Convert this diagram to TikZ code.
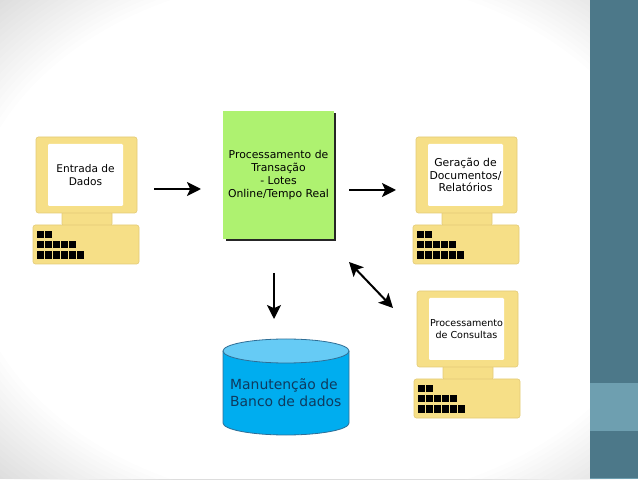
\documentclass[tikz,border=0pt]{standalone}
\usepackage{xcolor}
\usepackage{fontspec}
\setmainfont{DejaVu Sans}
\usetikzlibrary{arrows.meta}
\definecolor{barra}{HTML}{4C7889}
\definecolor{barraclara}{HTML}{6E9FB0}
\definecolor{micro}{HTML}{F6DF87}
\definecolor{microborda}{HTML}{E3CB78}
\definecolor{caixa}{HTML}{AEF270}
\definecolor{cilindro}{HTML}{00ADEF}
\definecolor{tampa}{HTML}{66CBF5}
\definecolor{cilborda}{HTML}{2F6E96}
\definecolor{cilnome}{HTML}{0F3A5E}
\tikzset{
  pecamicro/.style={fill=micro,draw=microborda,line width=0.3mm,rounded corners=1.2mm},
  tela/.style={fill=white,rounded corners=0.6mm,outer sep=0pt,minimum width=37.5mm,minimum height=31mm,inner sep=0pt,align=center},
  seta/.style={-{Stealth[length=7mm,width=7mm,inset=1.6mm]},line width=1mm},
  setafina/.style={-{Stealth[length=7mm,width=7mm,inset=1.6mm]},line width=0.75mm},
  setadupla/.style={{Stealth[length=7mm,width=7mm,inset=1.6mm]}-{Stealth[length=7mm,width=7mm,inset=1.6mm]},line width=1mm}
}
\begin{document}
\begin{tikzpicture}[x=0.5mm,y=0.5mm]
\useasboundingbox (0,0) rectangle (638,479);
% cantos escurecidos do fundo
\foreach \r in {352,358,...,448} {
  \fill[black,opacity=0.009,even odd rule] (0,0) rectangle (638,479) (319,239.5) ellipse[x radius=\r,y radius=0.75*\r];
}
\fill[barra] (590,0) rectangle (638,479);
\fill[barraclara] (590,48) rectangle (638,96);
\fill[barraclara] (590,0) rectangle (638,1.2);
% os tres micros
\foreach \dx/\dy/\nome/\corpo/\texto in {0/0/entrada/15.1/{Entrada de\\Dados},
    380/0/geracao/15.4/{Geração de\\Documentos/\\Relatórios},
    381/-154/consulta/13.6/{Processamento\\de Consultas}} {
  \begin{scope}[shift={(\dx,\dy)}]
  \draw[pecamicro] (62,253) rectangle (112,268);
  \draw[pecamicro] (36,266) rectangle (137,342);
  \draw[pecamicro] (33,215) rectangle (139,254);
  \node[tela,font=\fontsize{\corpo pt}{17.8pt}\selectfont] (\nome) at (85.5,304) {\texto};
  \foreach \i in {0,1} \fill[black] (37+8*\i,240.6) rectangle +(7,7.8);
  \foreach \i in {0,...,4} \fill[black] (37+8*\i,230.6) rectangle +(7,7.8);
  \foreach \i in {0,...,5} \fill[black] (37+8*\i,219.8) rectangle +(7,7.8);
  \end{scope}
}
% transacao
\fill[black!85] (226,238) rectangle (336,366);
\node[fill=caixa,outer sep=0pt,inner sep=0pt,minimum width=55.5mm,minimum height=64mm,align=center,font=\fontsize{15.4pt}{18.5pt}\selectfont] (transacao) at (278.5,304) {Processamento de\\Transação\\- Lotes\\Online/Tempo Real};
% banco de dados
\fill[cilindro] (223,128) -- (223,56) arc[start angle=180,end angle=360,x radius=63,y radius=12] -- (349,128) -- cycle;
\draw[cilborda,line width=0.4mm] (223,128) -- (223,56) arc[start angle=180,end angle=360,x radius=63,y radius=12] -- (349,128);
\fill[tampa] (286,128) ellipse[x radius=63,y radius=12];
\draw[cilborda,line width=0.4mm] (286,128) ellipse[x radius=63,y radius=12];
\node[minimum width=63mm,minimum height=48mm,inner sep=0pt,outer sep=0pt] (banco) at (286,92) {};
\node[text=cilnome,align=left,anchor=west,inner sep=0pt,font=\fontsize{19.8pt}{24.4pt}\selectfont] (bancotexto) at (230,86) {Manutenção de\\Banco de dados};
% setas
\draw[seta] ([shift={(31,-14)}]entrada.east) -- ([shift={(-22,-14)}]transacao.west);
\draw[seta] ([shift={(15,-15)}]transacao.east) -- ([shift={(-32,-15)}]geracao.west);
\draw[setafina] ([shift={(-4.5,-34)}]transacao.south) -- ([shift={(-12,20)}]banco.north);
\draw[setadupla] ([shift={(15,-23)}]transacao.south east) -- ([shift={(-36,-10)}]consulta.north west);
\end{tikzpicture}
\end{document}
